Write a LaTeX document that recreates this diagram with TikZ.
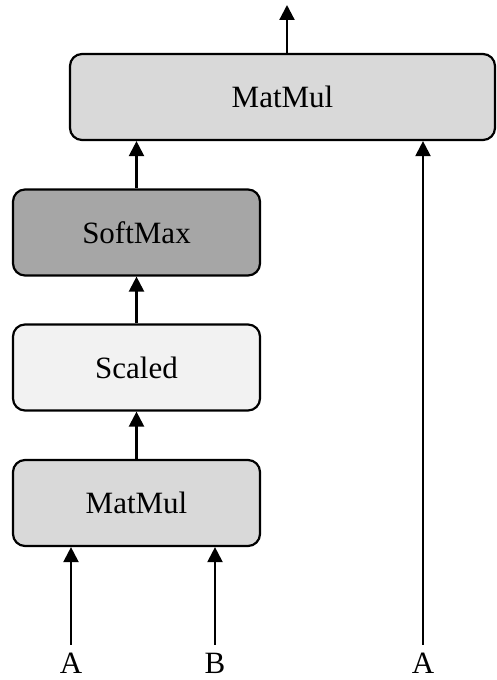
\documentclass[tikz,border=0pt]{standalone}
\usepackage{fontspec}
\setmainfont{Liberation Serif}
\definecolor{boxgrey}{RGB}{217,217,217}
\definecolor{darkgrey}{RGB}{166,166,166}
\definecolor{palegrey}{RGB}{242,242,242}
\usetikzlibrary{arrows.meta,positioning}

\begin{document}
\begin{tikzpicture}[x=1pt,y=1pt,
        block/.style={draw=black,line width=2.2pt,rounded corners=12pt,
                      minimum width=247pt,minimum height=86pt,align=center,
                      font=\fontsize{31}{36}\selectfont},
        input/.style={anchor=north,inner sep=8pt,font=\fontsize{31}{36}\selectfont},
        arrow/.style={-{Triangle[length=15pt,width=15pt]},line width=2.2pt}
    ]
        \useasboundingbox (0,0) rectangle (496,680);
        % Nodes
        \node[block,fill=boxgrey,minimum width=425pt] (top) at (282.5,583) {MatMul};
        \node[block,fill=darkgrey] (softmax) at (136.5,447.5) {SoftMax};
        \node[block,fill=palegrey] (scaled) at (136.5,312.5) {Scaled};
        \node[block,fill=boxgrey] (matmul) at (136.5,177) {MatMul};
        \node[input] (inA) at (71,35) {A};
        \node[input] (inB) at (215,35) {B};
        \node[input] (inC) at (423,35) {A};
        \coordinate (out) at (287,675);

        % Arrows
        \draw[arrow] (inA.north) -- (inA.north |- matmul.south);
        \draw[arrow] (inB.north) -- (inB.north |- matmul.south);
        \draw[arrow] (matmul) -- (scaled);
        \draw[arrow] (scaled) -- (softmax);
        \draw[arrow] (softmax.north) -- (softmax.north |- top.south);
        \draw[arrow] (inC.north) -- (inC.north |- top.south);
        \draw[arrow] (out |- top.north) -- (out);
    \end{tikzpicture}
\end{document}
